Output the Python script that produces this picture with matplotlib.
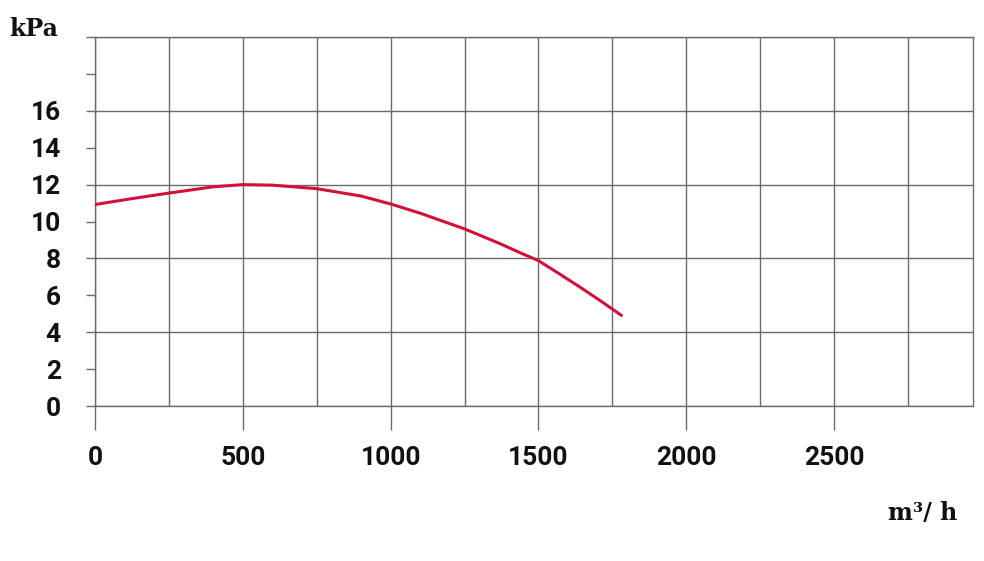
"""
Fan curve: pressure (kPa) vs flow (m3/h).
"""

import matplotlib

matplotlib.use("Agg")
import matplotlib.pyplot as plt
from matplotlib.ticker import MultipleLocator

# --- data ---
flow = [0, 125, 250, 400, 500, 600, 750, 900, 1000, 1100, 1250, 1370, 1436, 1500, 1570, 1640, 1710, 1780]
pressure = [10.92, 11.24, 11.54, 11.88, 12.0, 11.97, 11.78, 11.38, 10.95, 10.45, 9.6, 8.8, 8.32, 7.88, 7.17, 6.45, 5.7, 4.92]

x_ticks = [0, 500, 1000, 1500, 2000, 2500]
y_ticks = [0, 2, 4, 6, 8, 10, 12, 14, 16, 18, 20]
y_labels = ["0", "2", "4", "6", "8", "10", "12", "14", "16", "", ""]

GRID = "#6b6b6b"
CURVE = "#d2103c"
TEXT = "#111111"

plt.rcParams["font.family"] = ["Roboto", "DejaVu Sans"]

fig = plt.figure(figsize=(9.84, 5.61), dpi=100)
ax = fig.add_axes([95 / 984, 1 - 406 / 561, 878 / 984, 369 / 561])

ax.plot(flow, pressure, color=CURVE, linewidth=2.2, solid_joinstyle="round", zorder=3)

ax.set_xlim(0, 2970)
ax.set_ylim(0, 20)

# x: labelled ticks every 500 (long), grid every 250
ax.set_xticks(x_ticks)
ax.xaxis.set_minor_locator(MultipleLocator(250))
ax.tick_params(axis="x", which="major", length=17, width=1, color=GRID, pad=12,
               labelsize=19, labelcolor=TEXT)
ax.tick_params(axis="x", which="minor", length=0)
ax.grid(axis="x", which="both", color=GRID, linewidth=1)

# y: short ticks every 2, grid every 4, labels only up to 16
ax.set_yticks(y_ticks)
ax.set_yticklabels(y_labels)
ax.yaxis.set_minor_locator(MultipleLocator(4))
ax.yaxis.remove_overlapping_locs = False
ax.tick_params(axis="y", which="major", length=6.5, width=1, color=GRID, pad=18,
               labelsize=19, labelcolor=TEXT)
ax.tick_params(axis="y", which="minor", length=0)
ax.grid(axis="y", which="minor", color=GRID, linewidth=1)
ax.grid(axis="y", which="major", visible=False)

for lbl in ax.get_xticklabels() + ax.get_yticklabels():
    lbl.set_fontweight("bold")

for side in ("left", "right", "top", "bottom"):
    ax.spines[side].set_color(GRID)
    ax.spines[side].set_linewidth(1)

fig.text(9 / 984, 1 - 29 / 561, "kPa", fontsize=17, fontweight="bold",
         family="DejaVu Serif", color=TEXT, va="center", ha="left")
fig.text(957 / 984, 1 - 513 / 561, "m³/ h", fontsize=17, fontweight="bold",
         family="DejaVu Serif", color=TEXT, va="center", ha="right")

fig.savefig("out.png", dpi=100)
